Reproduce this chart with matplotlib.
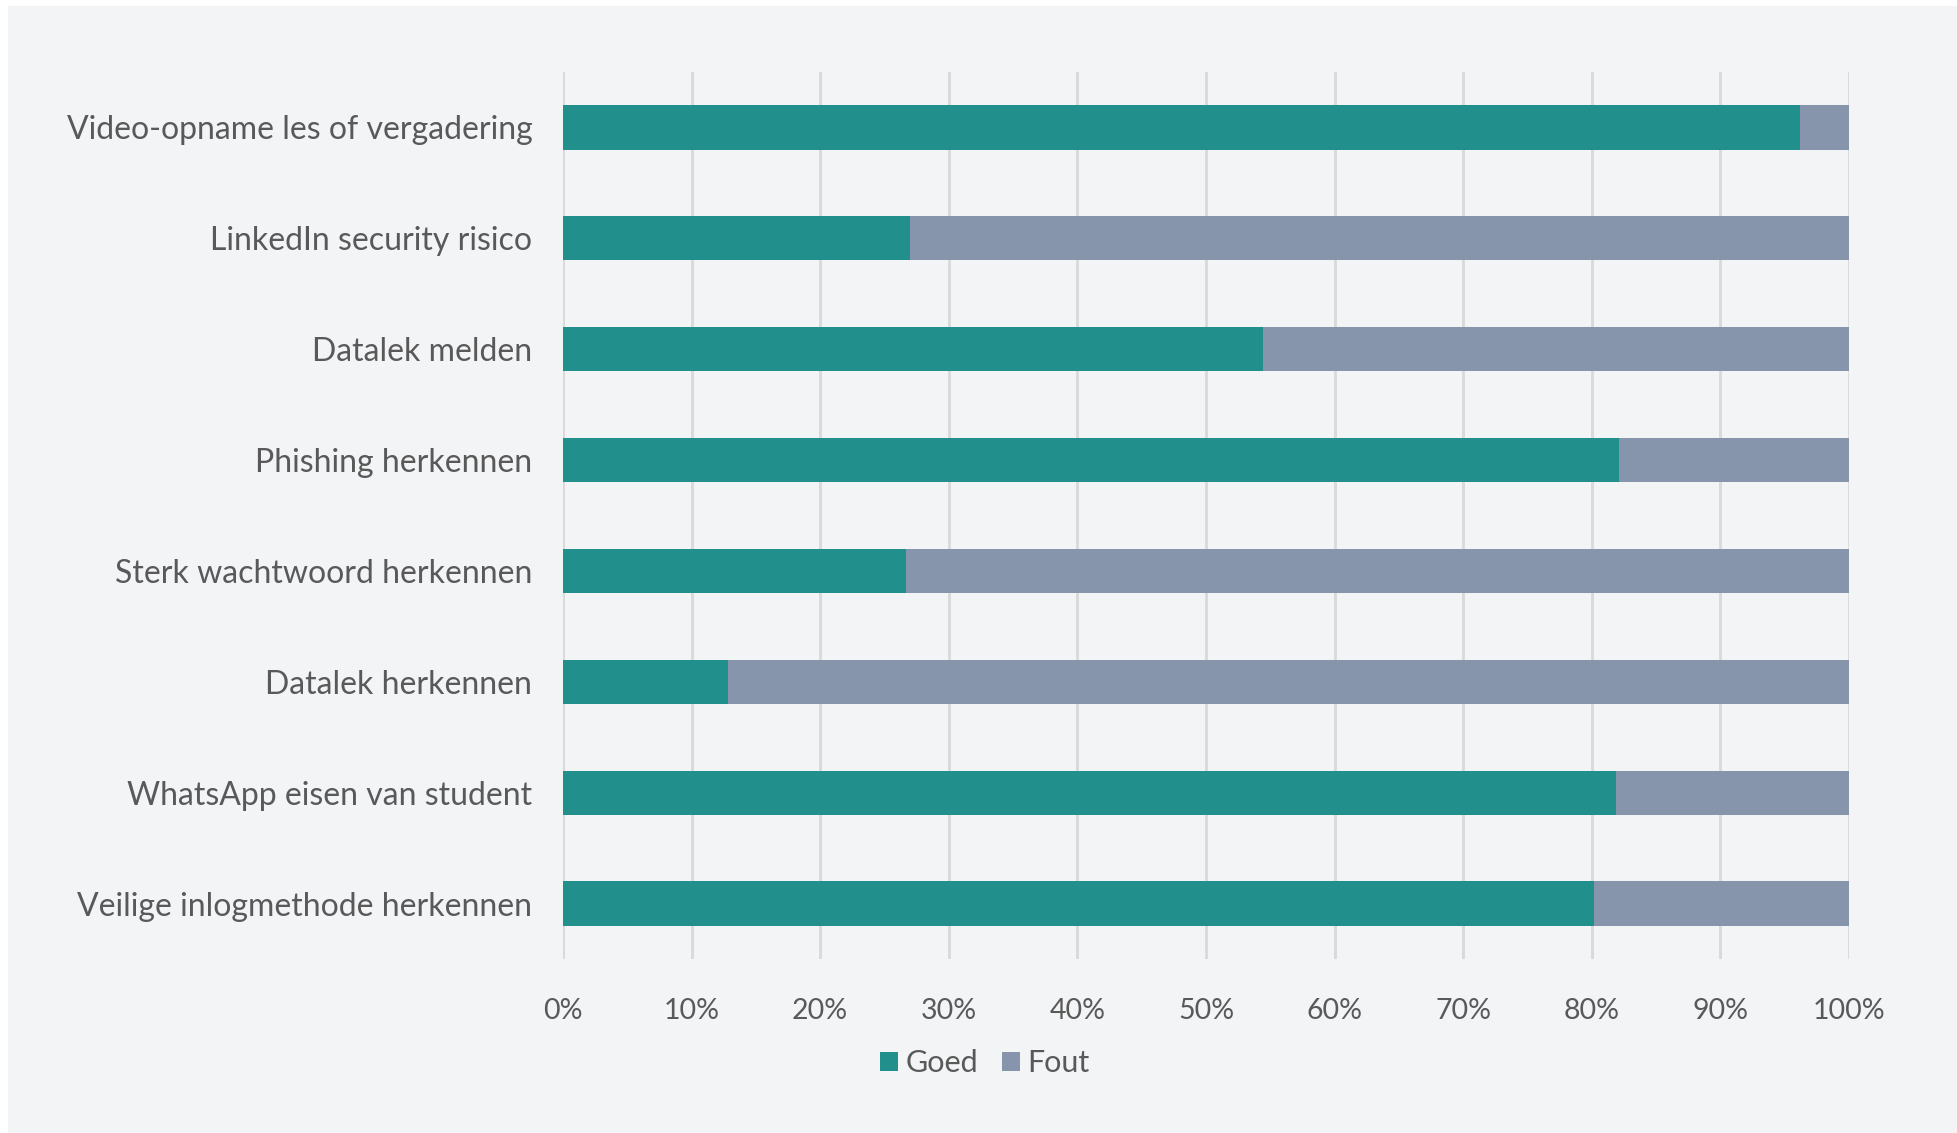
import matplotlib
matplotlib.use('Agg')
import matplotlib.pyplot as plt
from matplotlib.patches import Rectangle

# Data (share of answers, %)
categories = [
    'Video-opname les of vergadering',
    'LinkedIn security risico',
    'Datalek melden',
    'Phishing herkennen',
    'Sterk wachtwoord herkennen',
    'Datalek herkennen',
    'WhatsApp eisen van student',
    'Veilige inlogmethode herkennen',
]
goed = [96.2, 27.0, 54.4, 82.1, 26.7, 12.8, 81.9, 80.2]
fout = [100 - g for g in goed]
ticks = [0, 10, 20, 30, 40, 50, 60, 70, 80, 90, 100]
tick_labels = ['%d%%' % t for t in ticks]

teal = '#21908C'
grey = '#8695AB'
bg = '#F3F4F6'
text_col = '#595959'

plt.rcParams['font.family'] = ['Lato', 'DejaVu Sans']

fig = plt.figure(figsize=(19.58, 11.33), dpi=100)
fig.patch.set_facecolor('white')
# grey panel behind everything
fig.patches.append(Rectangle((8 / 1958, 0), 1 - 8 / 1958, 1 - 6 / 1133,
                             transform=fig.transFigure, facecolor=bg,
                             edgecolor='none', zorder=-10))

ax = fig.add_axes([0.2875, 0.1535, 0.9443 - 0.2875, 0.9365 - 0.1535])
ax.set_facecolor('none')

y = list(range(len(categories)))
ax.barh(y, goed, height=0.4, color=teal, label='Goed', zorder=3)
ax.barh(y, fout, left=goed, height=0.4, color=grey, label='Fout', zorder=3)

ax.set_xlim(0, 100)
ax.set_ylim(len(categories) - 0.5, -0.5)
ax.set_xticks(ticks)
ax.set_xticklabels(tick_labels)
ax.set_yticks(y)
ax.set_yticklabels(categories)
ax.xaxis.grid(True, color='#D9D9D9', linewidth=2, zorder=0)
ax.tick_params(axis='x', length=0, pad=28, labelsize=20.5, labelcolor=text_col)
ax.tick_params(axis='y', length=0, pad=22, labelsize=23, labelcolor=text_col)
for s in ax.spines.values():
    s.set_visible(False)

leg = fig.legend(loc='center', bbox_to_anchor=(985 / 1958, 1 - 1063 / 1133),
                 ncol=2, frameon=False, fontsize=22, handlelength=0.6,
                 handleheight=0.6, handletextpad=0.25, columnspacing=0.75)
for t in leg.get_texts():
    t.set_color(text_col)

fig.savefig('out.png', dpi=100, facecolor='white')
